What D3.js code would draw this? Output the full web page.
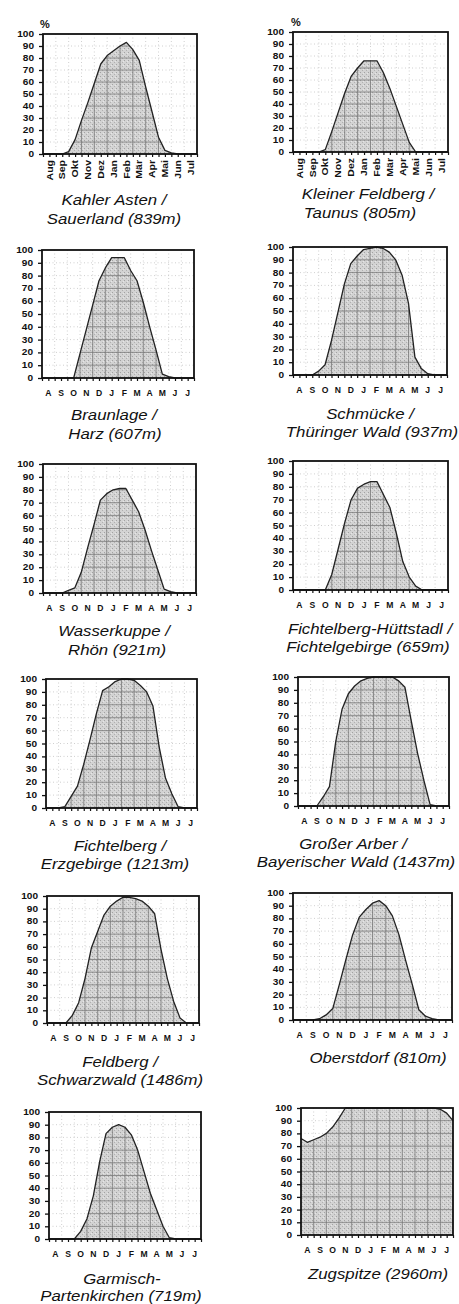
<!DOCTYPE html>
<html><head><meta charset="utf-8">
<script src="https://cdn.jsdelivr.net/npm/d3@7"></script>
<style>body{margin:0;background:#fff}svg{display:block}</style>
</head><body><svg id="c" width="459" height="1304"></svg>
<script>
// ---------- data ----------
const halfMonths = d3.range(25);            // 1 Aug ... 31 Jul in half-month steps
const monthLetters = ["A","S","O","N","D","J","F","M","A","M","J","J"];
const monthAbbr = ["Aug","Sep","Okt","Nov","Dez","Jan","Feb","Mär","Apr","Mai","Jun","Jul"];
const yTicks = [0,10,20,30,40,50,60,70,80,90,100];

const kahlerAsten     = [0,0,0,0,2,12,28,43,59,75,82,86,90,93,87,78,56,35,14,3,1,0,0,0,0];
const kleinerFeldberg = [0,0,0,0,0,2,17,33,49,63,70,76,76,76,66,53,38,23,8,0,0,0,0,0,0];
const braunlage       = [0,0,0,0,0,0,19,38,57,76,86,94,94,94,84,76,59,40,22,3,1,0,0,0,0];
const schmuecke       = [0,0,0,0,3,8,27,49,71,87,93,98,99,100,99,96,90,78,56,14,5,1,0,0,0];
const wasserkuppe     = [0,0,0,0,2,4,16,35,53,72,77,80,81,81,72,63,49,33,18,3,1,0,0,0,0];
const huettstadl      = [0,0,0,0,0,0,12,32,52,70,79,82,84,84,74,64,44,22,10,3,0,0,0,0,0];
const fichtelberg     = [0,0,0,1,9,17,34,53,73,91,94,98,100,100,99,95,90,79,47,23,11,1,0,0,0];
const grosserArber    = [0,0,0,0,7,15,50,75,87,93,97,99,100,100,100,100,97,92,66,41,20,1,0,0,0];
const feldberg        = [0,0,0,0,6,16,35,59,72,85,92,96,99,99,98,96,92,86,58,35,17,4,0,0,0];
const oberstdorf      = [0,0,0,0,1,4,9,28,48,67,81,87,92,94,90,82,67,47,28,8,3,1,0,0,0];
const garmisch        = [0,0,0,0,0,6,16,34,61,83,88,90,88,82,70,53,36,23,10,1,0,0,0,0,0];
const zugspitze       = [76,73,75,77,80,85,92,100,100,100,100,100,100,100,100,100,100,100,100,100,100,100,99,96,90];

const stations = [
  {title:["Kahler Asten /","Sauerland (839m)"], values:kahlerAsten, rotated:true},
  {title:["Kleiner Feldberg /","Taunus (805m)"], values:kleinerFeldberg, rotated:true},
  {title:["Braunlage /","Harz (607m)"], values:braunlage},
  {title:["Schmücke /","Thüringer Wald (937m)"], values:schmuecke},
  {title:["Wasserkuppe /","Rhön (921m)"], values:wasserkuppe},
  {title:["Fichtelberg-Hüttstadl /","Fichtelgebirge (659m)"], values:huettstadl},
  {title:["Fichtelberg /","Erzgebirge (1213m)"], values:fichtelberg},
  {title:["Großer Arber /","Bayerischer Wald (1437m)"], values:grosserArber},
  {title:["Feldberg /","Schwarzwald (1486m)"], values:feldberg},
  {title:["Oberstdorf (810m)"], values:oberstdorf},
  {title:["Garmisch-","Partenkirchen (719m)"], values:garmisch},
  {title:["Zugspitze (2960m)"], values:zugspitze}
];

// ---------- layout ----------
const panels = [
  {l:43,r:197,t:34,b:154,   tt:[[114,205],[114,224]]},
  {l:293,r:448,t:32,b:152,  tt:[[368,199],[360,218]]},
  {l:42,r:194,t:250,b:378,  tt:[[114,420],[115,439]]},
  {l:293,r:447,t:247,b:375, tt:[[370,419],[372,437]]},
  {l:43,r:196,t:464,b:593,  tt:[[114,636],[117,655]]},
  {l:293,r:448,t:461,b:590, tt:[[370,634],[368,652]]},
  {l:46,r:197,t:679,b:808,  tt:[[120,851],[115,869]]},
  {l:298,r:449,t:677,b:806, tt:[[353,849],[356,867]]},
  {l:47,r:199,t:896,b:1023, tt:[[120,1067],[120,1085]]},
  {l:293,r:452,t:893,b:1020,tt:[[378,1063]]},
  {l:49,r:201,t:1112,b:1239,tt:[[122,1284],[121,1301]]},
  {l:301,r:453,t:1108,b:1235,tt:[[378,1279]]}
];

const svg = d3.select("#c");
svg.append("rect").attr("width",459).attr("height",1304).attr("fill","#fff");
const defs = svg.append("defs");
const pat = defs.append("pattern").attr("id","stip").attr("width",4).attr("height",4)
  .attr("patternUnits","userSpaceOnUse");
pat.append("rect").attr("width",4).attr("height",4).attr("fill","#d3d3d3");
pat.append("rect").attr("x",0).attr("y",0).attr("width",1).attr("height",1).attr("fill","#a2a2a2");
pat.append("rect").attr("x",2).attr("y",2).attr("width",1).attr("height",1).attr("fill","#b0b0b0");
pat.append("rect").attr("x",3).attr("y",1).attr("width",1).attr("height",1).attr("fill","#e6e6e6");

const FONT = "'Liberation Sans', Arial, Helvetica, sans-serif";

panels.forEach((p,i)=>{
  const st = stations[i];
  const x = d3.scaleLinear().domain([0,24]).range([p.l,p.r]);
  const y = d3.scaleLinear().domain([0,100]).range([p.b,p.t]);
  const g = svg.append("g");
  const gridX = d3.range(2,24,2), gridY = d3.range(10,100,10);

  // faint dotted grid over whole plot
  const og = g.append("g").attr("stroke","#c4c4c4").attr("stroke-width",0.8).attr("stroke-dasharray","1,2.5");
  og.selectAll(null).data(gridX).join("line")
    .attr("x1",d=>x(d)).attr("x2",d=>x(d)).attr("y1",p.t).attr("y2",p.b);
  og.selectAll(null).data(gridY).join("line")
    .attr("x1",p.l).attr("x2",p.r).attr("y1",d=>y(d)).attr("y2",d=>y(d));

  const area = d3.area().x((d,j)=>x(halfMonths[j])).y0(y(0)).y1(d=>y(d));
  const line = d3.line().x((d,j)=>x(halfMonths[j])).y(d=>y(d));
  defs.append("clipPath").attr("id","clip"+i).append("path").attr("d",area(st.values));

  g.append("path").attr("d",area(st.values)).attr("fill","url(#stip)");
  const ig = g.append("g").attr("clip-path","url(#clip"+i+")")
    .attr("stroke","#7a7a7a").attr("stroke-width",0.8);
  ig.selectAll(null).data(gridX).join("line")
    .attr("x1",d=>x(d)).attr("x2",d=>x(d)).attr("y1",p.t).attr("y2",p.b);
  ig.selectAll(null).data(gridY).join("line")
    .attr("x1",p.l).attr("x2",p.r).attr("y1",d=>y(d)).attr("y2",d=>y(d));
  g.append("path").attr("d",line(st.values)).attr("fill","none")
    .attr("stroke","#222").attr("stroke-width",1.3).attr("stroke-linejoin","round");

  // frame
  g.append("rect").attr("x",p.l).attr("y",p.t).attr("width",p.r-p.l).attr("height",p.b-p.t)
    .attr("fill","none").attr("stroke","#111").attr("stroke-width",1.8);

  // axes
  const ya = g.append("g").attr("transform",`translate(${p.l},0)`)
    .call(d3.axisLeft(y).tickValues(yTicks).tickSize(4).tickFormat(""));
  ya.select(".domain").remove();
  ya.selectAll("line").attr("stroke","#111").attr("stroke-width",1.3);
  const xa = g.append("g").attr("transform",`translate(0,${p.b})`)
    .call(d3.axisBottom(x).tickValues(halfMonths).tickSize(3).tickFormat(""));
  xa.select(".domain").remove();
  xa.selectAll("line").attr("stroke","#111").attr("stroke-width",1.2);

  // y labels
  g.selectAll(null).data(yTicks).join("text")
    .attr("transform",d=>`translate(${p.l-9},${y(d)}) scale(1.2,1)`)
    .attr("dy","0.36em").attr("text-anchor","end")
    .attr("font-family",FONT).attr("font-weight","bold").attr("font-size",8.4)
    .attr("fill","#111").text(d=>d);

  // month labels
  const monthCenters = d3.range(12).map(k=>2*k+1);
  if (st.rotated) {
    g.selectAll(null).data(monthCenters).join("text")
      .attr("transform",(d)=>`translate(${x(d)+3.2},${p.b+6}) rotate(-90) scale(1.25,1)`)
      .attr("text-anchor","end")
      .attr("font-family",FONT).attr("font-weight","bold").attr("font-size",8.4)
      .attr("fill","#111").text((d,k)=>monthAbbr[k]);
    g.append("text").attr("x",i===0?p.l+2:p.l+3).attr("y",p.t-6).attr("text-anchor","middle")
      .attr("font-family",FONT).attr("font-weight","bold").attr("font-size",11)
      .attr("fill","#111").text("%");
  } else {
    g.selectAll(null).data(monthCenters).join("text")
      .attr("x",d=>x(d)).attr("y",p.b+18).attr("text-anchor","middle")
      .attr("font-family",FONT).attr("font-weight","bold").attr("font-size",8.6)
      .attr("fill","#111").text((d,k)=>monthLetters[k]);
  }

  // titles
  st.title.forEach((t,k)=>{
    const [cx,by] = p.tt[k];
    g.append("text").attr("transform",`translate(${cx},${by}) scale(1.2,1)`)
      .attr("text-anchor","middle").attr("font-family",FONT).attr("font-style","italic")
      .attr("font-size",14).attr("fill","#111").text(t);
  });
});
</script></body></html>
